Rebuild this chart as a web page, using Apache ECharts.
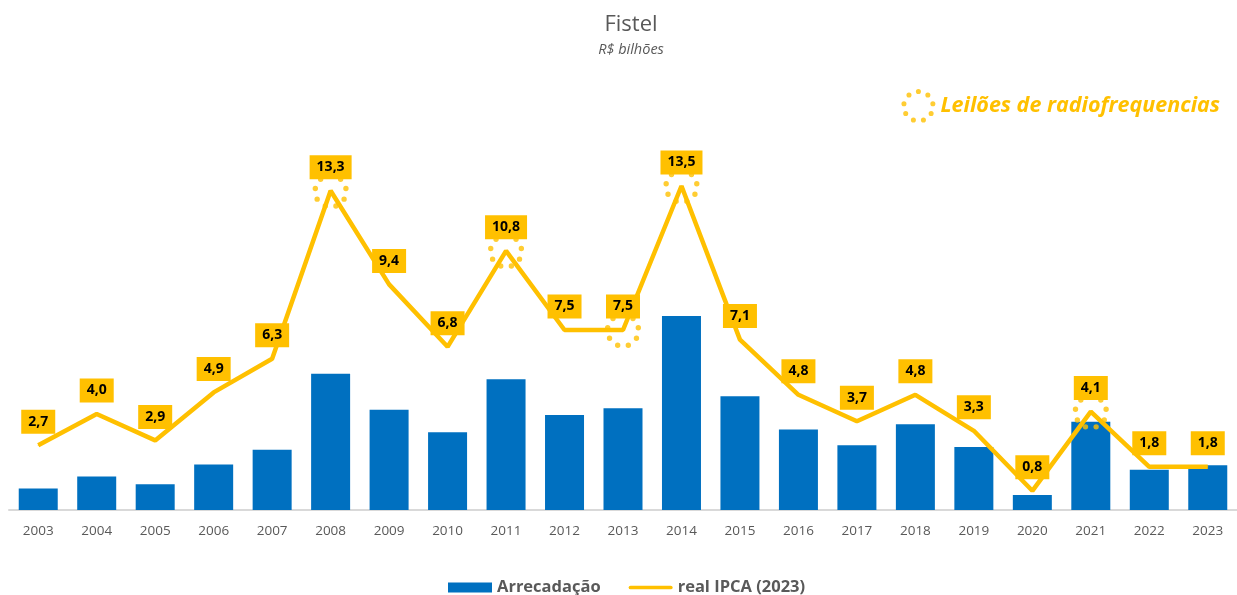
<!DOCTYPE html>
<html>
<head>
<meta charset="utf-8">
<script src="https://cdn.jsdelivr.net/npm/echarts@6/dist/echarts.min.js"></script>
<style>
  html, body { margin: 0; padding: 0; background: #fff; }
  #chart { width: 1237px; height: 595px; }
</style>
</head>
<body>
<div id="chart"></div>
<script>
const years = ['2003', '2004', '2005', '2006', '2007', '2008', '2009', '2010', '2011', '2012', '2013',
  '2014', '2015', '2016', '2017', '2018', '2019', '2020', '2021', '2022', '2023']
// Arrecadação (nominal)
const arrecadacao = [0.90, 1.40, 1.07, 1.90, 2.51, 5.68, 4.18, 3.24, 5.45, 3.96, 4.24,
  8.08, 4.74, 3.35, 2.70, 3.57, 2.63, 0.63, 3.68, 1.68, 1.86]
// real IPCA (2023)
const realIpca = [2.7, 4.0, 2.9, 4.9, 6.3, 13.3, 9.4, 6.8, 10.8, 7.5, 7.5,
  13.5, 7.1, 4.8, 3.7, 4.8, 3.3, 0.8, 4.1, 1.8, 1.8]
// anos com leilões de radiofrequências
const leiloes = ['2008', '2011', '2013', '2014', '2021']

const yellow = '#FFC000'
const blue = '#0070C0'
const grey = '#595959'
const font = '"Open Sans", "Noto Sans", sans-serif'

// ring of small dots used to mark the auction years
const ringPath = (() => {
  const n = 9, R = 15, r = 2.6
  let d = ''
  for (let i = 0; i < n; i++) {
    const a = -Math.PI / 2 + i * 2 * Math.PI / n
    const cx = 20 + R * Math.cos(a)
    const cy = 20 + R * Math.sin(a)
    d += `M${(cx - r).toFixed(2)} ${cy.toFixed(2)} a${r} ${r} 0 1 0 ${2 * r} 0 a${r} ${r} 0 1 0 ${-2 * r} 0 Z `
  }
  return 'path://' + d
})()

const chart = echarts.init(document.getElementById('chart'))

const option = {
  animation: false,
  textStyle: { fontFamily: font },
  title: {
    text: 'Fistel',
    subtext: 'R$ bilhões',
    left: 626,
    textAlign: 'center',
    top: 9,
    itemGap: 6,
    textStyle: { fontSize: 22, fontWeight: 'normal', color: grey, fontFamily: font },
    subtextStyle: { fontSize: 14.5, fontStyle: 'italic', color: grey, fontFamily: font }
  },
  legend: [
    {
      data: [
        { name: 'Arrecadação', icon: 'rect' },
        { name: 'real IPCA (2023)', icon: 'path://M2 0 H45 A2 2 0 0 1 45 4 H2 A2 2 0 0 1 2 0 Z' }
      ],
      top: 574,
      left: 443,
      itemGap: 28,
      itemWidth: 44,
      itemHeight: 10,
      textStyle: { fontSize: 16.5, fontWeight: 'bold', color: grey, fontFamily: font }
    },
    {
      data: [{ name: 'Leilões de radiofrequencias', icon: ringPath }],
      top: 84,
      right: 12,
      itemWidth: 34,
      itemHeight: 34,
      itemGap: 6,
      selectedMode: false,
      textStyle: { fontSize: 21.5, fontWeight: 'bold', fontStyle: 'italic', color: yellow, fontFamily: font }
    }
  ],
  grid: { left: 9, right: 0, top: 78, bottom: 85 },
  xAxis: {
    type: 'category',
    data: years,
    axisLine: { lineStyle: { color: '#D9D9D9', width: 2 } },
    axisTick: { show: false },
    axisLabel: { color: grey, fontSize: 13.5, margin: 14 }
  },
  yAxis: {
    type: 'value',
    min: 0,
    max: 18,
    show: false,
    splitLine: { show: false }
  },
  series: [
    {
      name: 'Arrecadação',
      type: 'bar',
      data: arrecadacao,
      barWidth: 39,
      itemStyle: { color: blue }
    },
    {
      name: 'real IPCA (2023)',
      type: 'line',
      data: realIpca,
      symbol: 'circle',
      symbolSize: 1,
      showSymbol: true,
      itemStyle: { color: yellow },
      lineStyle: { color: yellow, width: 4.5 },
      z: 3,
      label: {
        show: true,
        position: 'top',
        distance: 11,
        backgroundColor: yellow,
        color: '#000',
        fontWeight: 'bold',
        fontSize: 14,
        padding: [5, 7, 5, 7],
        formatter: (p) => p.value.toFixed(1).replace('.', ',')
      }
    },
    {
      name: 'Leilões de radiofrequencias',
      type: 'scatter',
      data: leiloes.map(y => [y, realIpca[years.indexOf(y)]]),
      symbol: ringPath,
      symbolSize: 36,
      itemStyle: { color: yellow },
      z: 2,
      silent: true
    }
  ]
}

chart.setOption(option)
window.addEventListener('resize', () => chart.resize())
</script>
</body>
</html>
